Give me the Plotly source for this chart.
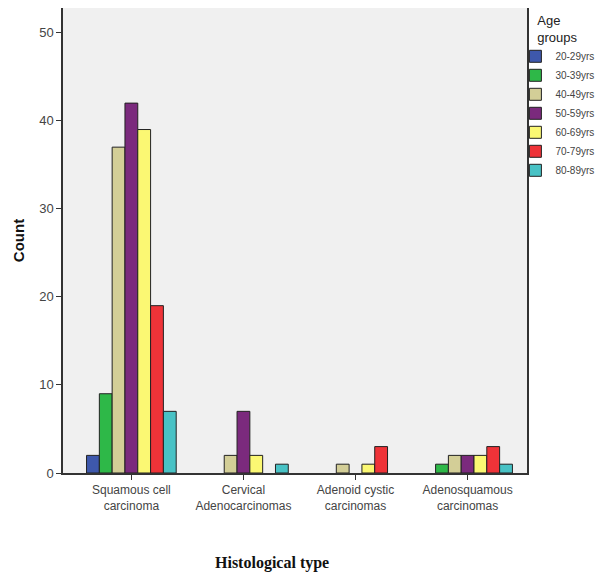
import plotly.graph_objects as go

categories = ["Squamous cell<br>carcinoma", "Cervical<br>Adenocarcinomas",
              "Adenoid cystic<br>carcinomas", "Adenosquamous<br>carcinomas"]
age_groups = ["20-29yrs", "30-39yrs", "40-49yrs", "50-59yrs", "60-69yrs", "70-79yrs", "80-89yrs"]
counts_20_29 = [2, None, None, None]
counts_30_39 = [9, None, None, 1]
counts_40_49 = [37, 2, 1, 2]
counts_50_59 = [42, 7, None, 2]
counts_60_69 = [39, 2, 1, 2]
counts_70_79 = [19, None, 3, 3]
counts_80_89 = [7, 1, None, 1]
series = [counts_20_29, counts_30_39, counts_40_49, counts_50_59,
          counts_60_69, counts_70_79, counts_80_89]
colors = ["#3E58AC", "#2EB848", "#D3CE97", "#7B2A7D", "#FBF873", "#EF3338", "#48C2C5"]

W, H = 590, 570
L, T = 55, 0
PW, PH = 464, 465

fig = go.Figure()
for name, vals, col in zip(age_groups, series, colors):
    fig.add_trace(go.Bar(
        x=list(range(len(categories))), y=vals, name=name,
        marker=dict(color=col, line=dict(color="#222222", width=1)),
    ))

fig.update_layout(
    width=W, height=H,
    margin=dict(l=L, r=W - L - PW, t=T, b=H - T - PH, autoexpand=False),
    barmode="group", bargap=0.2, bargroupgap=0,
    plot_bgcolor="#F0F0F0", paper_bgcolor="white",
    font=dict(family="Liberation Sans, Arial", size=12, color="#444444"),
    showlegend=True,
    legend=dict(
        title=dict(text="Age<br>groups", side="top center", font=dict(size=13, color="#222222")),
        x=0.975, xanchor="left", y=1.0, yanchor="top",
        font=dict(size=10, color="#444444"),
        itemwidth=30, tracegroupgap=0,
        bgcolor="rgba(0,0,0,0)",
    ),
    xaxis=dict(
        tickmode="array", tickvals=list(range(len(categories))), ticktext=categories,
        range=[-0.61, 3.53], showline=True, linecolor="#333333", linewidth=1.5,
        mirror=True, ticks="outside", ticklen=5, tickcolor="#333333",
        showgrid=False, zeroline=False, tickfont=dict(size=12, color="#444444"),
    ),
    yaxis=dict(
        range=[0, 52.8], tickvals=[0, 10, 20, 30, 40, 50],
        showline=True, linecolor="#333333", linewidth=1.5, mirror=True,
        ticks="outside", ticklen=5, tickcolor="#333333",
        showgrid=False, zeroline=False, tickfont=dict(size=13, color="#444444"),
        title=dict(text="<b>Count</b>", font=dict(size=15, color="#111111"), standoff=11),
    ),
    annotations=[dict(
        text="<b>Histological type</b>", xref="paper", yref="paper",
        x=(264 - L) / PW, y=-(555 - PH) / PH, xanchor="center", yanchor="middle",
        showarrow=False, font=dict(family="Liberation Serif, Times New Roman", size=16, color="#111111"),
    )],
)

fig.write_html("out.html")
